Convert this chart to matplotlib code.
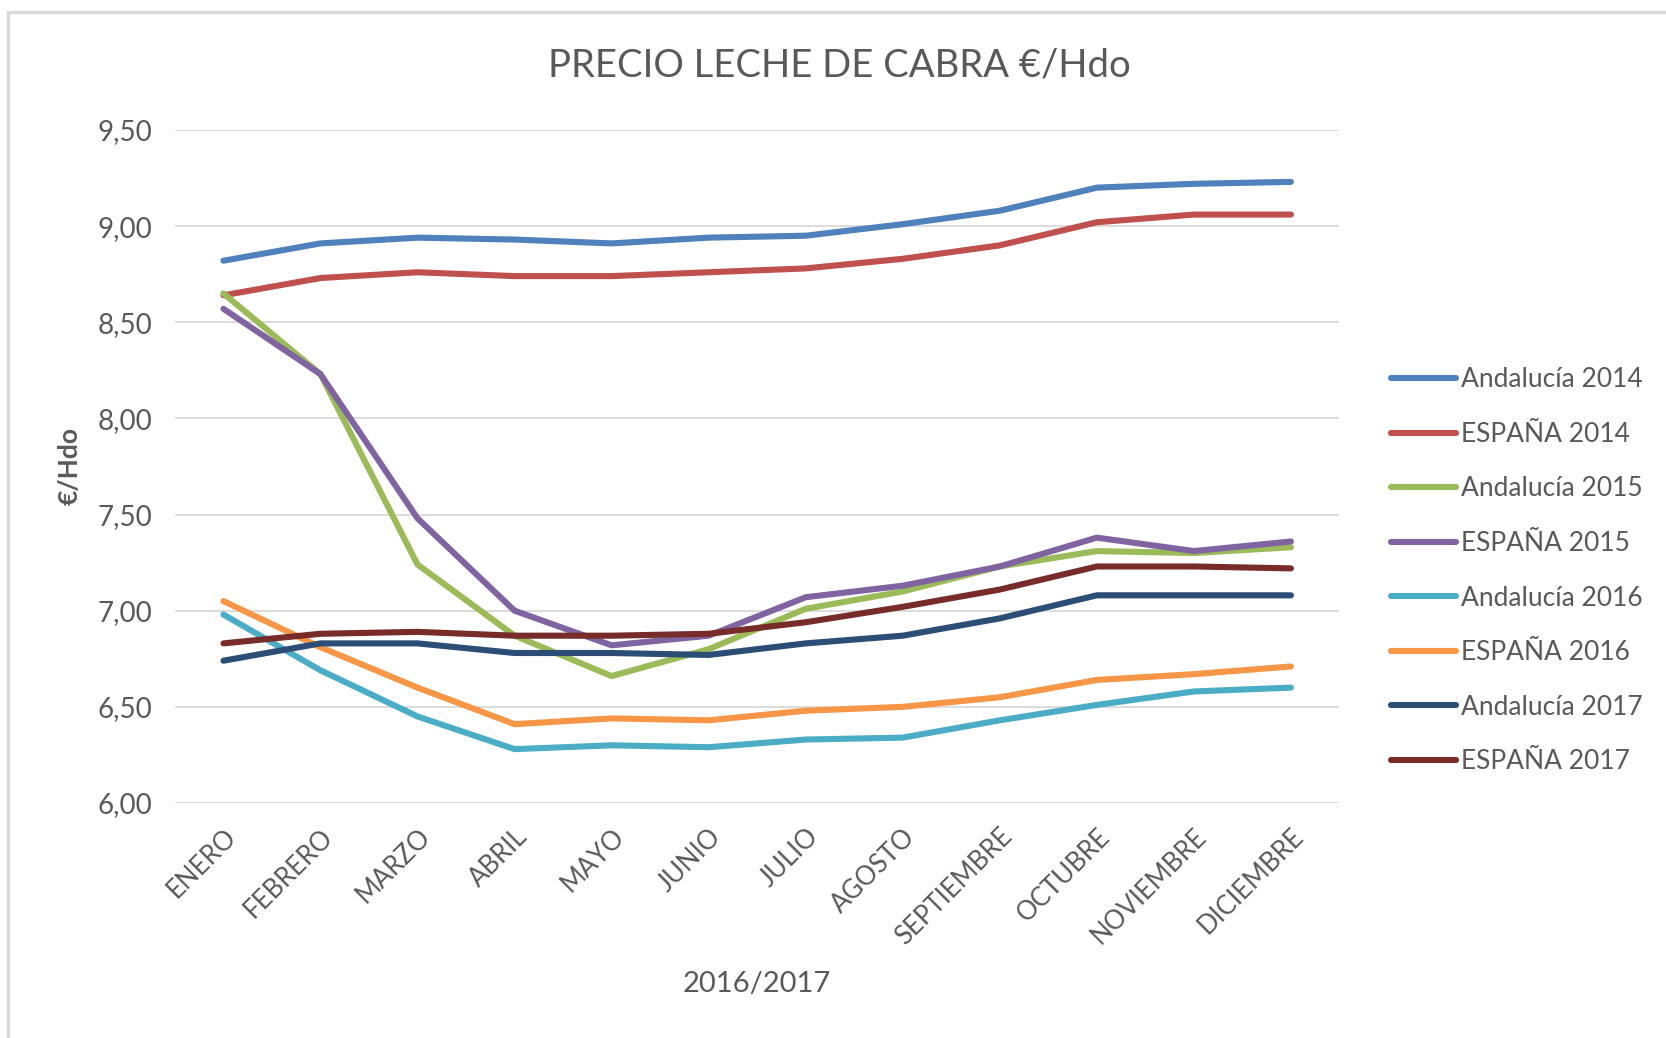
import matplotlib
matplotlib.use("Agg")
import matplotlib.pyplot as plt
from matplotlib.patches import Rectangle

plt.rcParams['font.family'] = ['Lato', 'DejaVu Sans']

meses = ["ENERO", "FEBRERO", "MARZO", "ABRIL", "MAYO", "JUNIO", "JULIO",
         "AGOSTO", "SEPTIEMBRE", "OCTUBRE", "NOVIEMBRE", "DICIEMBRE"]

andalucia_2014 = [8.82, 8.91, 8.94, 8.93, 8.91, 8.94, 8.95, 9.01, 9.08, 9.20, 9.22, 9.23]
espana_2014 = [8.64, 8.73, 8.76, 8.74, 8.74, 8.76, 8.78, 8.83, 8.90, 9.02, 9.06, 9.06]
andalucia_2015 = [8.65, 8.23, 7.24, 6.87, 6.66, 6.80, 7.01, 7.10, 7.23, 7.31, 7.30, 7.33]
espana_2015 = [8.57, 8.23, 7.48, 7.00, 6.82, 6.87, 7.07, 7.13, 7.23, 7.38, 7.31, 7.36]
andalucia_2016 = [6.98, 6.69, 6.45, 6.28, 6.30, 6.29, 6.33, 6.34, 6.43, 6.51, 6.58, 6.60]
espana_2016 = [7.05, 6.81, 6.60, 6.41, 6.44, 6.43, 6.48, 6.50, 6.55, 6.64, 6.67, 6.71]
andalucia_2017 = [6.74, 6.83, 6.83, 6.78, 6.78, 6.77, 6.83, 6.87, 6.96, 7.08, 7.08, 7.08]
espana_2017 = [6.83, 6.88, 6.89, 6.87, 6.87, 6.88, 6.94, 7.02, 7.11, 7.23, 7.23, 7.22]

series = [
    ("Andalucía 2014", andalucia_2014, "#4F81BD"),
    ("ESPAÑA 2014", espana_2014, "#C0504D"),
    ("Andalucía 2015", andalucia_2015, "#9BBB59"),
    ("ESPAÑA 2015", espana_2015, "#8064A2"),
    ("Andalucía 2016", andalucia_2016, "#4BACC6"),
    ("ESPAÑA 2016", espana_2016, "#F79646"),
    ("Andalucía 2017", andalucia_2017, "#2C4D75"),
    ("ESPAÑA 2017", espana_2017, "#772C2A"),
]

gris = "#595959"

fig = plt.figure(figsize=(16.66, 10.38), dpi=100)
# marco gris del area del grafico
fig.patches.append(Rectangle((0.005, -0.01), 1.2, 0.9985, transform=fig.transFigure,
                             fill=False, edgecolor="#D9D9D9", linewidth=2.5))

ax = fig.add_axes([0.105, 0.2264, 0.699, 0.6484])

x = list(range(len(meses)))
for nombre, valores, color in series:
    ax.plot(x, valores, color=color, linewidth=4.4, label=nombre,
            solid_capstyle="round", solid_joinstyle="round")

ax.set_xlim(-0.5, len(meses) - 0.5)
ax.set_ylim(6.0, 9.5)
yt = [6.0, 6.5, 7.0, 7.5, 8.0, 8.5, 9.0, 9.5]
ax.set_yticks(yt)
ax.set_yticklabels([f"{v:.2f}".replace(".", ",") for v in yt], fontsize=20, color=gris)
ax.set_xticks(x)
ax.set_xticklabels(meses, rotation=45, ha="right", rotation_mode="anchor",
                   fontsize=18.5, color=gris)
ax.tick_params(axis="y", length=0, pad=16)
ax.tick_params(axis="x", length=0, pad=15)
ax.grid(axis="y", color="#D9D9D9", linewidth=1.3)
ax.set_axisbelow(True)
for s in ax.spines.values():
    s.set_visible(False)

ax.set_ylabel("€/Hdo", fontsize=19, color=gris, labelpad=12, fontweight="bold")
ax.set_xlabel("2016/2017", fontsize=21, color=gris, labelpad=15)
fig.text(0.504, 0.937, "PRECIO LECHE DE CABRA €/Hdo", ha="center", va="center",
         fontsize=27.5, color=gris)

ax.legend(loc="upper left", bbox_to_anchor=(0.8206, 0.669), bbox_transform=fig.transFigure,
          frameon=False, fontsize=19, handlelength=2.45, handletextpad=0.2,
          labelspacing=1.12, labelcolor=gris)

fig.savefig("out.png", dpi=100)
